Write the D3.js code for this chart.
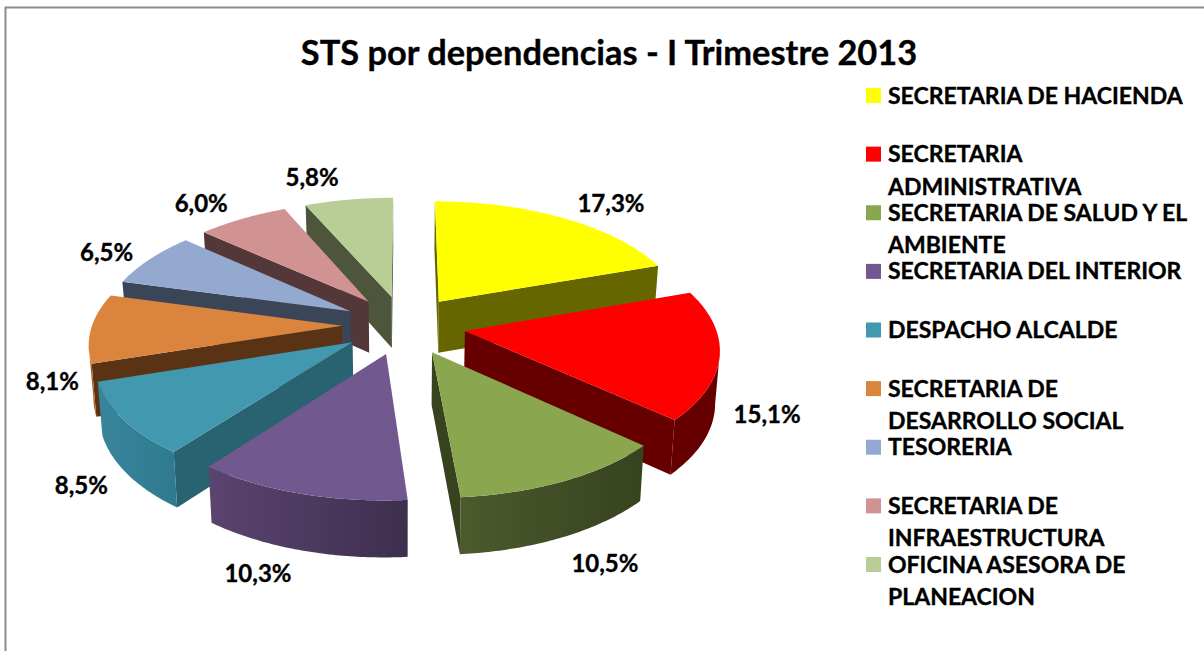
<!DOCTYPE html>
<html>
<head>
    <title>STS por dependencias</title>
    <script src="https://cdnjs.cloudflare.com/ajax/libs/d3/7.8.5/d3.min.js"></script>
    <style>
        html, body { margin: 0; padding: 0; background: #fff; }
        svg { display: block; }
        text { font-family: Lato, "Open Sans", sans-serif; font-weight: 700; fill: #000; stroke: #000; stroke-width: 0.35px; }
    </style>
</head>
<body>
    <div id="chart"></div>
    <script>
const title = 'STS por dependencias - I Trimestre 2013';
const values = [17.3, 15.1, 10.5, 10.3, 8.5, 8.1, 6.5, 6.0, 5.8];
const valueLabels = ['17,3%', '15,1%', '10,5%', '10,3%', '8,5%', '8,1%', '6,5%', '6,0%', '5,8%'];
const legendLines = [
    ['SECRETARIA DE HACIENDA'],
    ['SECRETARIA', 'ADMINISTRATIVA'],
    ['SECRETARIA DE SALUD Y EL', 'AMBIENTE'],
    ['SECRETARIA DEL INTERIOR'],
    ['DESPACHO ALCALDE'],
    ['SECRETARIA DE', 'DESARROLLO SOCIAL'],
    ['TESORERIA'],
    ['SECRETARIA DE', 'INFRAESTRUCTURA'],
    ['OFICINA ASESORA DE', 'PLANEACION']
];
const topColors = ['#FFFF00', '#FF0000', '#8AA64E', '#71588F', '#4198AF', '#DB843D', '#93A9CF', '#D19392', '#B9CD96'];
const sideColors = ['#666600', '#660000', '#37421F', '#463658', '#296271', '#5A3315', '#3A4558', '#543839', '#4D563A'];
// left and right colour of the rounded outer wall
const wallStops = [
    ['#666600', '#666600'], ['#660000', '#660000'], ['#4C5A2D', '#37421F'],
    ['#5B4470', '#3E2F4E'], ['#38869C', '#2F7A8F'], ['#A85F24', '#A85F24'],
    ['#3A4558', '#3A4558'], ['#543839', '#543839'], ['#4D563A', '#4D563A']
];
// label shift away from the radial anchor
const labelNudge = [[31, -4], [8, 54], [17, 59], [-27, 54], [-4, 52], [-1, 52], [-15, 0], [-24, -5], [-31, -10]];
// paint order, back to front
const paintOrder = [8, 7, 6, 5, 4, 0, 1, 3, 2];

const width = 1204, height = 651;
const cx = 404, cy = 325;
const explode = 0.247;
const radiusX = 250, radiusY = 119, persp = 0.13;

const svg = d3.select('#chart').append('svg')
    .attr('width', width)
    .attr('height', height);
const defs = svg.append('defs');

// frame, only top and left show in the window
svg.append('path')
    .attr('d', `M5.5,${height}V7.5H${width}`)
    .attr('fill', 'none')
    .attr('stroke', '#8c8c8c')
    .attr('stroke-width', 2);

svg.append('text')
    .attr('x', 609)
    .attr('y', 65)
    .attr('text-anchor', 'middle')
    .style('font-size', '34.4px')
    .text(title);

const slices = d3.pie().sort(null)(values);

// pie plane to screen, one perspective for the whole chart
function project(X, U) {
    const d = 1 - persp * U;
    return [cx + radiusX * X / d, cy + radiusY * U / d];
}

function topPoint(slice, r, a) {
    const mid = (slice.startAngle + slice.endAngle) / 2;
    return project(
        explode * Math.sin(mid) + r * Math.sin(a),
        -explode * Math.cos(mid) - r * Math.cos(a)
    );
}

// same point on the floor of the slice
function drop(p) {
    const h = 51 + (p[1] - 300) * 0.03;
    return [p[0] - (p[0] - cx) * 0.015, p[1] + h];
}

// outer wall faces the camera at this angle?
function wallVisible(slice, a) {
    const mid = (slice.startAngle + slice.endAngle) / 2;
    const s = Math.sin(a), u = -Math.cos(a);
    const es = explode * Math.sin(mid), eu = -explode * Math.cos(mid);
    return -(es * s + eu * u) - 1 + u / persp > 0;
}

const line = d3.line();
const chart = svg.append('g');

function arcAngles(a0, a1) {
    return d3.range(0, 61).map(i => a0 + (a1 - a0) * i / 60);
}

paintOrder.forEach(i => {
    const slice = slices[i];
    const g = chart.append('g');
    const apex = topPoint(slice, 0, 0);
    const a0 = slice.startAngle, a1 = slice.endAngle;

    // radial walls, back facing ones are culled
    [[a0, 1], [a1, -1]].forEach(([a, sign]) => {
        const outer = topPoint(slice, 1, a);
        const quad = [apex, outer, drop(outer), drop(apex)];
        if (d3.polygonArea(quad) * sign > 0) {
            g.append('path')
                .attr('d', line(quad) + 'Z')
                .attr('fill', sideColors[i]);
        }
    });

    // outer wall, camera facing part only
    const upper = arcAngles(a0, a1)
        .filter(a => wallVisible(slice, a))
        .map(a => topPoint(slice, 1, a));
    if (upper.length > 1) {
        const lower = upper.map(drop).reverse();
        const xs = d3.extent(upper, d => d[0]);
        const gradId = 'wall' + i;
        const grad = defs.append('linearGradient')
            .attr('id', gradId)
            .attr('gradientUnits', 'userSpaceOnUse')
            .attr('x1', xs[0]).attr('x2', xs[1])
            .attr('y1', 0).attr('y2', 0);
        grad.append('stop').attr('offset', 0).attr('stop-color', wallStops[i][0]);
        grad.append('stop').attr('offset', 1).attr('stop-color', wallStops[i][1]);
        g.append('path')
            .attr('d', line(upper.concat(lower)) + 'Z')
            .attr('fill', `url(#${gradId})`);
    }

    // top face
    const rim = arcAngles(a0, a1).map(a => topPoint(slice, 1, a));
    g.append('path')
        .attr('d', line([apex].concat(rim)) + 'Z')
        .attr('fill', topColors[i]);
});

// value labels
svg.append('g').selectAll('text')
    .data(slices)
    .join('text')
    .attr('x', (d, i) => topPoint(d, 1.15, (d.startAngle + d.endAngle) / 2)[0] + labelNudge[i][0])
    .attr('y', (d, i) => topPoint(d, 1.15, (d.startAngle + d.endAngle) / 2)[1] + labelNudge[i][1])
    .attr('text-anchor', 'middle')
    .attr('dominant-baseline', 'central')
    .style('font-size', '24px')
    .text((d, i) => valueLabels[i]);

// legend
const legendY = d3.scaleLinear().domain([0, legendLines.length - 1]).range([95.5, 564.5]);
const legend = svg.append('g').selectAll('g')
    .data(legendLines)
    .join('g')
    .attr('transform', (d, i) => `translate(866,${legendY(i)})`);
legend.append('rect')
    .attr('y', -7.5)
    .attr('width', 15)
    .attr('height', 15)
    .attr('fill', (d, i) => topColors[i]);
legend.each(function (lines) {
    d3.select(this).selectAll('text')
        .data(lines)
        .join('text')
        .attr('x', 22)
        .attr('y', (d, j) => j * 32.5 + 8)
        .style('font-size', '23px')
        .text(d => d);
});
    </script>
</body>
</html>
